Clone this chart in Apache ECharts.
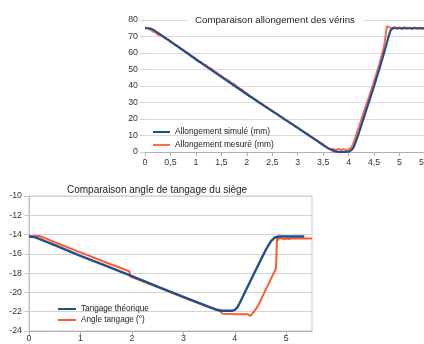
<!DOCTYPE html>
<html><head><meta charset="utf-8">
<script src="https://cdn.jsdelivr.net/npm/echarts@6/dist/echarts.min.js"></script>
<style>html,body{margin:0;padding:0;background:#fff}#c{width:424px;height:344px}</style>
</head><body><div id="c"></div>
<script>
const topTitle = "Comparaison allongement des vérins";
const botTitle = "Comparaison angle de tangage du siège";
const topNames = ["Allongement simulé (mm)", "Allongement mesuré (mm)"];
const botNames = ["Tangage théorique", "Angle tangage (°)"];

const simule = [[0,75],[0.05,75],[0.1,74.8],[0.15,74.2],[0.2,73.3],[0.3,71.3],[0.5,67],[1,56.2],[1.5,45.5],[2,35],[2.5,24.8],[3,14.6],[3.3,8.4],[3.5,4.2],[3.6,2.2],[3.7,0.7],[3.8,0.1],[3.9,0],[4.0,0.2],[4.05,1],[4.1,3],[4.15,7],[4.2,11.5],[4.3,21],[4.4,30.5],[4.5,40],[4.6,50],[4.7,60.5],[4.78,69.5],[4.82,73.5],[4.86,75],[5.5,75]];
const mesure = [[0,75.5],[0.05,75.2],[0.1,74.3],[0.15,73.2],[0.2,72.6],[0.25,71.2],[0.3,70.6],[0.35,69.9],[0.4,68.7],[0.45,68.1],[0.5,66.6],[0.55,65.9],[0.6,64.6],[0.65,63.9],[0.7,62.5],[0.75,61.9],[0.8,60.4],[0.85,59.9],[0.9,58.2],[0.95,57.6],[1,56.4],[1.05,54.8],[1.1,54.6],[1.15,53.1],[1.2,52.6],[1.25,51.1],[1.3,50.7],[1.35,49.2],[1.4,48.4],[1.45,47.1],[1.5,46.2],[1.55,44.9],[1.6,44.1],[1.65,43.1],[1.7,41.9],[1.75,41.2],[1.8,39.8],[1.85,38.7],[1.9,37.8],[1.95,36.5],[2,35.6],[2.05,33.8],[2.1,33.2],[2.15,32.1],[2.2,31.2],[2.25,29.6],[2.3,29.1],[2.35,27.7],[2.4,27.0],[2.45,25.6],[2.5,24.9],[2.55,23.9],[2.6,23.1],[2.65,21.6],[2.7,20.9],[2.75,19.5],[2.8,18.9],[2.85,17.4],[2.9,16.8],[2.95,15.4],[3,14.9],[3.05,13.4],[3.1,12.6],[3.15,11.5],[3.2,10.7],[3.25,9.3],[3.3,8.7],[3.35,7.4],[3.4,6.6],[3.45,5.5],[3.5,4.7],[3.55,3.2],[3.6,2.4],[3.65,1.6],[3.7,1.9],[3.75,1.3],[3.8,1.8],[3.85,1.2],[3.9,1.7],[3.95,1.1],[4.0,1.6],[4.03,1.8],[4.06,3],[4.1,6],[4.2,15],[4.3,24.5],[4.4,33.5],[4.5,43],[4.6,53],[4.65,58.5],[4.7,65],[4.73,71],[4.75,76.2],[4.8,75.6],[4.85,74.6],[4.9,75.8],[4.95,74.7],[5.0,75.5],[5.05,74.5],[5.1,75.7],[5.15,74.8],[5.2,75.4],[5.25,74.5],[5.3,75.6],[5.35,74.7],[5.4,75.3],[5.45,74.6],[5.5,75.2]];

const theorique = [[0,-14.2],[0.1,-14.25],[0.2,-14.45],[0.5,-15.1],[1,-16.2],[1.5,-17.25],[2,-18.3],[2.5,-19.4],[3,-20.45],[3.5,-21.5],[3.65,-21.8],[3.75,-21.9],[3.95,-21.9],[4.0,-21.8],[4.05,-21.55],[4.1,-21.05],[4.35,-18.3],[4.6,-15.6],[4.7,-14.7],[4.78,-14.3],[4.85,-14.2],[5.35,-14.2]];
const angle = [[0,-14.2],[0.15,-14.15],[0.2,-14.15],[0.3,-14.35],[0.5,-14.8],[1,-15.85],[1.5,-16.9],[1.95,-17.8],[1.97,-18.35],[2,-18.35],[2.5,-19.45],[3,-20.5],[3.5,-21.55],[3.7,-21.9],[3.76,-22.2],[4.0,-22.25],[4.25,-22.25],[4.3,-22.45],[4.33,-22.4],[4.4,-21.8],[4.45,-21.4],[4.8,-17.5],[4.81,-16],[4.82,-14.3],[4.84,-14.6],[4.86,-14.35],[4.88,-14.55],[4.92,-14.4],[4.96,-14.5],[5.0,-14.4],[5.05,-14.45],[5.1,-14.4],[5.5,-14.4]];

const BLUE = '#1f4f8f', RED = '#ff5a2a', RED2 = '#ff6a48';
const FONT = 'Liberation Sans';
const fmt = v => String(v).replace('.', ',');

const chart = echarts.init(document.getElementById('c'), null, {renderer:'canvas'});
chart.setOption({
  animation:false,
  textStyle:{fontFamily:FONT},
  title:[
    {text:topTitle, left:187, top:14, padding:[1,8], backgroundColor:'#fff',
     textStyle:{fontSize:9.7, fontWeight:'normal', color:'#222', fontFamily:FONT}, z:10},
    {text:botTitle, left:63, top:185, padding:[0,4],
     textStyle:{fontSize:10, fontWeight:'normal', color:'#222', fontFamily:FONT}}
  ],
  legend:[
    {data:topNames, orient:'vertical', left:148, top:123, icon:'rect', itemWidth:17, itemHeight:2, itemGap:5,
     textStyle:{fontSize:8.4, color:'#222', fontFamily:FONT}, selectedMode:false},
    {data:botNames, orient:'vertical', left:53, top:300, icon:'rect', itemWidth:18, itemHeight:2, itemGap:3,
     textStyle:{fontSize:8.2, color:'#222', fontFamily:FONT}, selectedMode:false}
  ],
  grid:[
    {left:145, top:20, width:280, height:132, containLabel:false, outerBoundsMode:'none'},
    {left:29, top:196, right:112, bottom:13, containLabel:false, outerBoundsMode:'none', show:true, borderColor:'#c8c8c8', borderWidth:1}
  ],
  xAxis:[
    {gridIndex:0, type:'value', min:0, max:5.5, interval:0.5,
     axisLine:{show:true, lineStyle:{color:'#b0b0b0'}}, axisTick:{show:true, length:4, lineStyle:{color:'#b0b0b0'}},
     splitLine:{show:false}, axisLabel:{formatter:fmt, fontSize:8.8, color:'#333', margin:6}},
    {gridIndex:1, type:'value', min:0, max:5.5, interval:1,
     axisLine:{show:true, lineStyle:{color:'#b0b0b0'}}, axisTick:{show:true, length:4, lineStyle:{color:'#b0b0b0'}},
     splitLine:{show:false}, axisLabel:{fontSize:8.8, color:'#333', margin:3, showMaxLabel:false}}
  ],
  yAxis:[
    {gridIndex:0, type:'value', min:0, max:80, interval:10,
     axisLine:{show:false}, axisTick:{show:true, length:5, lineStyle:{color:'#d0d0d0'}},
     splitLine:{lineStyle:{color:'#dcdcdc'}}, axisLabel:{fontSize:8.8, color:'#333', margin:7}},
    {gridIndex:1, type:'value', min:-24, max:-10, interval:2,
     axisLine:{show:true, lineStyle:{color:'#c0c0c0'}}, axisTick:{show:true, length:5, lineStyle:{color:'#c8c8c8'}},
     splitLine:{lineStyle:{color:'#d4d4d4'}}, axisLabel:{fontSize:8.8, color:'#333', margin:7}}
  ],
  series:[
    {name:topNames[1], type:'line', xAxisIndex:0, yAxisIndex:0, data:mesure, showSymbol:false,
     lineStyle:{color:RED2, width:2}, itemStyle:{color:RED2}},
    {name:topNames[0], type:'line', xAxisIndex:0, yAxisIndex:0, data:simule, showSymbol:false,
     lineStyle:{color:BLUE, width:2.2}, itemStyle:{color:BLUE}},
    {name:botNames[1], type:'line', xAxisIndex:1, yAxisIndex:1, data:angle, showSymbol:false,
     lineStyle:{color:RED, width:2}, itemStyle:{color:RED}},
    {name:botNames[0], type:'line', xAxisIndex:1, yAxisIndex:1, data:theorique, showSymbol:false,
     lineStyle:{color:BLUE, width:2.4}, itemStyle:{color:BLUE}}
  ]
});
</script></body></html>
